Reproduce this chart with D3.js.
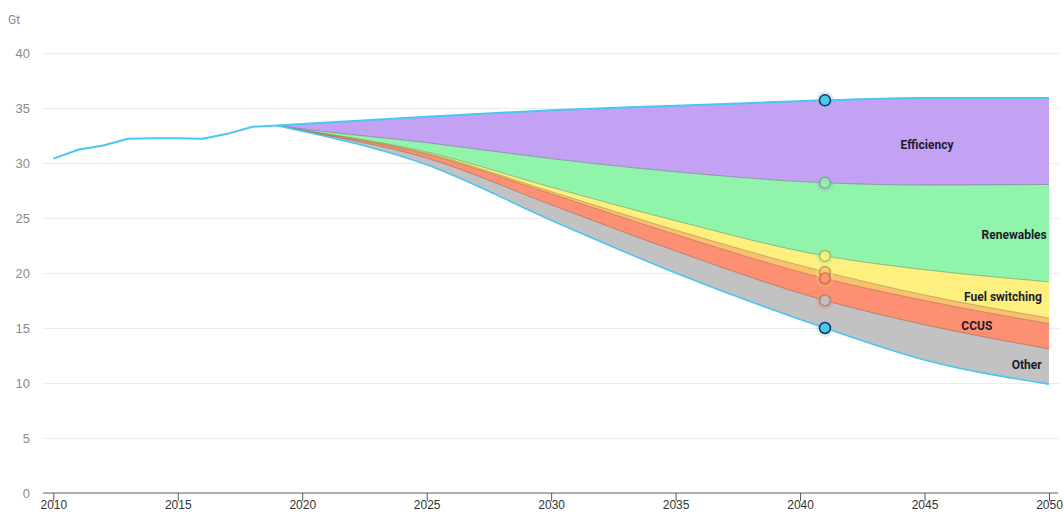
<!DOCTYPE html>
<html>
<head>
<meta charset="utf-8">
<script src="https://cdn.jsdelivr.net/npm/d3@7"></script>
<style>
  html, body { margin: 0; padding: 0; background: #fff; }
  svg { display: block; font-family: Roboto, "Noto Sans", sans-serif; }
</style>
</head>
<body>
<svg id="chart" width="1064" height="512"></svg>
<script>
// Historical energy-related CO2 emissions (Gt)
const histYears = [2010, 2011, 2012, 2013, 2014, 2015, 2016, 2017, 2018, 2019];
const histValues = [30.4, 31.2, 31.6, 32.2, 32.25, 32.25, 32.2, 32.65, 33.3, 33.4];

// Projection years
const projYears = [2019, 2020, 2025, 2030, 2035, 2041, 2045, 2050];
// Stated policies trajectory (Gt)
const statedPolicies = [33.4, 33.55, 34.2, 34.8, 35.2, 35.7, 35.9, 35.9];
// Reductions by measure, stacked downward from the stated policies line (Gt)
const efficiency    = [0, 0.45, 2.35, 4.4, 6.0, 7.5, 7.9, 7.85];
const renewables    = [0, 0.08, 0.85, 2.6, 4.45, 6.65, 7.7, 8.85];
const fuelSwitching = [0, 0.02, 0.1, 0.4, 0.85, 1.45, 2.3, 3.3];
const nuclear       = [0, 0.02, 0.1, 0.2, 0.4, 0.6, 0.5, 0.5];
const ccus          = [0, 0.04, 0.35, 1.0, 1.5, 2.0, 2.2, 2.3];
const other         = [0, 0.04, 0.6, 1.4, 2.0, 2.5, 3.2, 3.2];

const measureKeys = ["Efficiency", "Renewables", "Fuel switching", "Nuclear", "CCUS", "Other"];
const measureValues = [efficiency, renewables, fuelSwitching, nuclear, ccus, other];
const measureColors = ["#c4a2f3", "#90f4aa", "#fdf07e", "#fdbf6e", "#fd9072", "#c2c2c2"];
// Which measures carry an in-chart label
const labelledMeasures = ["Efficiency", "Renewables", "Fuel switching", "CCUS", "Other"];

// Axis ticks
const xTicks = [2010, 2015, 2020, 2025, 2030, 2035, 2040, 2045, 2050];
const yTicks = [0, 5, 10, 15, 20, 25, 30, 35, 40];
const unitLabel = "Gt";
const highlightYear = 2041;

const lineBlue = "#49c6f2";

const svg = d3.select("#chart");
const plotLeft = 43, plotRight = 1060;

const x = d3.scaleLinear().domain([2010, 2050]).range([53.3, 1049]);
const y = d3.scaleLinear().domain([0, 40]).range([493, 53]);

// Gridlines + y labels
const yAxis = svg.append("g")
  .attr("transform", `translate(${plotLeft},0)`)
  .call(d3.axisLeft(y).tickValues(yTicks).tickSize(-(plotRight - plotLeft)).tickPadding(13));
yAxis.select(".domain").remove();
yAxis.selectAll(".tick line").attr("stroke", "#ececec").attr("stroke-width", 1);
yAxis.selectAll(".tick text").attr("fill", "#8a8a8a").style("font-size", "13px");

svg.append("text").attr("x", 8).attr("y", 24)
  .attr("fill", "#8a8a8a").style("font-size", "12px").text(unitLabel);

// Stack the reduction wedges
const rows = projYears.map((yr, i) => {
  const r = { year: yr, top: statedPolicies[i] };
  measureKeys.forEach((k, j) => { r[k] = measureValues[j][i]; });
  return r;
});
const series = d3.stack().keys(measureKeys)(rows);

const areaGen = d3.area()
  .curve(d3.curveMonotoneX)
  .x(d => x(d.data.year))
  .y0(d => y(d.data.top - d[1]))
  .y1(d => y(d.data.top - d[0]));
const edgeGen = d3.line()
  .curve(d3.curveMonotoneX)
  .x(d => x(d.data.year))
  .y(d => y(d.data.top - d[1]));

const layers = svg.append("g");
series.forEach((s, i) => {
  layers.append("path").datum(s)
    .attr("d", areaGen)
    .attr("fill", measureColors[i]);
});
// thin darker edges between wedges
series.forEach((s, i) => {
  if (i === series.length - 1) return;
  layers.append("path").datum(s)
    .attr("d", edgeGen)
    .attr("fill", "none")
    .attr("stroke", d3.color(measureColors[i]).darker(1.6))
    .attr("stroke-opacity", 0.55)
    .attr("stroke-width", 1);
});

// X axis
svg.append("line")
  .attr("x1", plotLeft).attr("x2", 1058)
  .attr("y1", y(0)).attr("y2", y(0))
  .attr("stroke", "#666").attr("stroke-width", 1.2);
const xAxis = svg.append("g")
  .attr("transform", `translate(0,${y(0)})`)
  .call(d3.axisBottom(x).tickValues(xTicks).tickSize(8).tickPadding(0).tickFormat(d3.format("d")));
xAxis.select(".domain").remove();
xAxis.selectAll(".tick line").attr("stroke", "#555");
xAxis.selectAll(".tick text").attr("fill", "#333").style("font-size", "12px")
  .attr("y", 7).attr("dy", "0.71em");

// Lines
const lineGen = d3.line().curve(d3.curveMonotoneX).x(d => x(d[0])).y(d => y(d[1]));
const sustainable = rows.map(r => [r.year, r.top - measureKeys.reduce((a, k) => a + r[k], 0)]);

svg.append("path")
  .datum(histYears.map((yr, i) => [yr, histValues[i]]))
  .attr("d", d3.line().x(d => x(d[0])).y(d => y(d[1])))
  .attr("fill", "none").attr("stroke", lineBlue).attr("stroke-width", 2);
svg.append("path")
  .datum(sustainable)
  .attr("d", lineGen)
  .attr("fill", "none").attr("stroke", lineBlue).attr("stroke-width", 1.6);
svg.append("path")
  .datum(projYears.map((yr, i) => [yr, statedPolicies[i]]))
  .attr("d", lineGen)
  .attr("fill", "none").attr("stroke", lineBlue).attr("stroke-width", 2);

// Wedge labels, placed in the middle of each band
const labelYears = { "Efficiency": 2045.1, "Renewables": 2048.6, "Fuel switching": 2048.15, "CCUS": 2047.1, "Other": 2049.1 };
function bandAt(s, yr) {
  const tops = s.map(d => d.data.top - d[0]);
  const bots = s.map(d => d.data.top - d[1]);
  const t = d3.scaleLinear().domain(projYears).range(tops)(yr);
  const b = d3.scaleLinear().domain(projYears).range(bots)(yr);
  return (t + b) / 2;
}
series.forEach(s => {
  if (!labelledMeasures.includes(s.key)) return;
  const yr = labelYears[s.key];
  svg.append("text")
    .attr("x", x(yr)).attr("y", y(bandAt(s, yr)))
    .attr("dy", "0.6em")
    .attr("text-anchor", "middle")
    .attr("fill", "#1c1b2e")
    .style("font-size", "12px").style("font-weight", "700")
    .text(s.key);
});

// Highlight markers for the selected year
const hi = projYears.indexOf(highlightYear);
const markers = [];
series.forEach((s, i) => {
  if (i === 0) return;
  markers.push({ v: s[hi].data.top - s[hi][0], color: measureColors[i], halo: measureColors[i - 1] });
});
markers.push({ v: sustainable[hi][1], color: lineBlue, halo: "#9fc8ea" });
markers.push({ v: statedPolicies[hi], color: lineBlue, halo: "#9fbbe8" });

const mg = svg.append("g");
markers.forEach(m => {
  mg.append("circle").attr("cx", x(highlightYear)).attr("cy", y(m.v)).attr("r", 9)
    .attr("fill", m.halo).attr("fill-opacity", 0.35);
});
markers.forEach(m => {
  const isLine = m.color === lineBlue;
  mg.append("circle").attr("cx", x(highlightYear)).attr("cy", y(m.v)).attr("r", 5.5)
    .attr("fill", m.color).attr("fill-opacity", isLine ? 1 : 0.85)
    .attr("stroke", isLine ? "#1b3550" : d3.color(m.color).darker(1.4))
    .attr("stroke-opacity", isLine ? 1 : 0.6)
    .attr("stroke-width", 1.5);
});
</script>
</body>
</html>
